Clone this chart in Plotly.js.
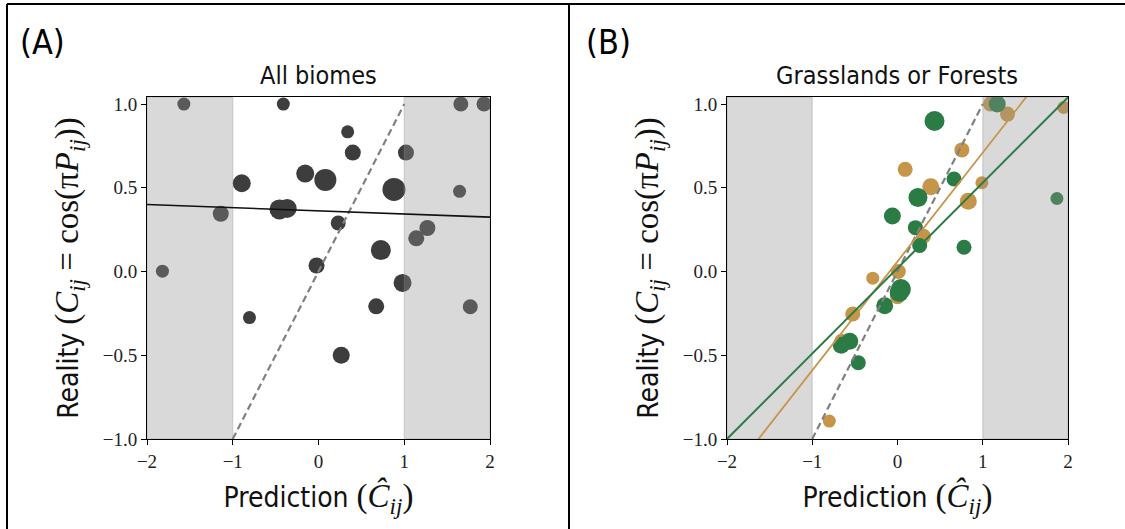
<!DOCTYPE html>
<html>
<head>
<meta charset="utf-8">
<script src="https://cdn.plot.ly/plotly-3.0.1.min.js"></script>
<style>html,body{margin:0;padding:0;background:#fff;}#chart{width:1125px;height:529px;}</style>
</head>
<body>
<div id="chart"></div>
<script>
// ---------- data ----------
// Panel A: all biomes
const predA   = [-1.57, -0.41, 1.66, 1.93, 0.34, 0.40, 1.02, -0.155, 0.08, -0.895, 0.88, 1.645, -0.455, -0.365, -1.14, 0.23, 1.27, 1.14, 0.727, -0.023, -1.82, 0.98, 0.673, 1.77, -0.805, 0.265];
const realA   = [1.0, 1.0, 1.0, 1.0, 0.834, 0.71, 0.71, 0.585, 0.547, 0.527, 0.49, 0.479, 0.371, 0.377, 0.345, 0.29, 0.26, 0.198, 0.128, 0.036, 0.002, -0.068, -0.208, -0.21, -0.275, -0.50];
const weightA = [13, 13, 15, 15, 13, 16, 16, 18, 22, 18, 23, 13, 20, 19, 16, 15, 16, 16, 20, 16, 13, 18, 16, 15, 13, 17];
const fitA_x  = [-2, 2];
const fitA_y  = [0.40, 0.325];

// Panel B: grasslands (tan) and forests (green)
const predGrass   = [1.09, 1.29, 1.95, 0.755, 0.09, 0.39, 0.99, 0.83, 0.305, 0.01, -0.29, 0.0, -0.525, -0.66, -0.80];
const realGrass   = [1.0, 0.94, 0.98, 0.726, 0.61, 0.506, 0.53, 0.42, 0.21, 0.0, -0.04, -0.15, -0.254, -0.41, -0.893];
const weightGrass = [15, 15, 13, 15, 15, 17, 13, 17, 15, 15, 13, 15, 15, 13, 13];
const predForest   = [1.17, 0.434, 0.663, 0.24, 1.87, -0.06, 0.21, 0.26, 0.78, 0.04, 0.02, -0.15, -0.56, -0.66, -0.46];
const realForest   = [1.0, 0.899, 0.552, 0.442, 0.436, 0.331, 0.262, 0.155, 0.145, -0.105, -0.125, -0.204, -0.417, -0.44, -0.545];
const weightForest = [17, 20, 15, 19, 13, 17, 15, 15, 15, 20, 19, 17, 17, 17, 15];
const fitGrass_x  = [-2, 2];
const fitGrass_y  = [-1.24, 1.36];
const fitForest_x = [-2, 2];
const fitForest_y = [-1.0, 1.04];

const identity_x = [-1, 1];
const identity_y = [-1, 1];

const xRange = [-2, 2];
const yRange = [-1, 1.042];
const threshold = 1;
const xTicks = [-2, -1, 0, 1, 2];
const yTicks = [-1, -0.5, 0, 0.5, 1];

// ---------- styles ----------
const SANS = '"DejaVu Sans Condensed", "Liberation Sans Narrow", Lato, sans-serif';
const SERIF = '"Liberation Serif", "DejaVu Serif", serif';
const greyPt = '#3d3d3d';
const tan = '#c6954a';
const green = '#2b7b45';
const shadeCol = 'rgba(146,146,146,0.35)';

function shadeTrace(xa, ya) {
  const x0 = xRange[0], x1 = xRange[1], y0 = yRange[0], y1 = yRange[1];
  return {
    x: [x0, -threshold, -threshold, x0, x0, null, threshold, x1, x1, threshold, threshold],
    y: [y0, y0, y1, y1, y0, null, y0, y0, y1, y1, y0],
    xaxis: xa, yaxis: ya, mode: 'lines', fill: 'toself',
    fillcolor: shadeCol, line: {color: 'rgba(140,140,140,0.25)', width: 1.5},
    hoverinfo: 'skip', showlegend: false
  };
}

function pts(x, y, xa, ya, color, size) {
  return {x: x, y: y, xaxis: xa, yaxis: ya, mode: 'markers', type: 'scatter',
          marker: {color: color, size: size, opacity: 1, line: {width: 0}}, showlegend: false};
}

const traces = [
  // Panel A
  pts(predA, realA, 'x', 'y', greyPt, weightA),
  shadeTrace('x', 'y'),
  {x: identity_x, y: identity_y, xaxis: 'x', yaxis: 'y', mode: 'lines',
   line: {color: '#808080', width: 2.2, dash: '7px,4px'}, showlegend: false},
  {x: fitA_x, y: fitA_y, xaxis: 'x', yaxis: 'y', mode: 'lines',
   line: {color: '#111', width: 1.6}, showlegend: false},
  // Panel B
  pts(predGrass, realGrass, 'x2', 'y2', tan, weightGrass),
  pts(predForest, realForest, 'x2', 'y2', green, weightForest),
  shadeTrace('x2', 'y2'),
  {x: identity_x, y: identity_y, xaxis: 'x2', yaxis: 'y2', mode: 'lines',
   line: {color: '#808080', width: 2.2, dash: '7px,4px'}, showlegend: false},
  {x: fitGrass_x, y: fitGrass_y, xaxis: 'x2', yaxis: 'y2', mode: 'lines',
   line: {color: tan, width: 1.8}, showlegend: false},
  {x: fitForest_x, y: fitForest_y, xaxis: 'x2', yaxis: 'y2', mode: 'lines',
   line: {color: green, width: 2}, showlegend: false}
];

const W = 1125, H = 529;
const yDom = [1 - 439 / H, 1 - 97 / H];

const M = 'font-family:Liberation Serif;font-size:33px';
const yTitle = 'Reality <span style="' + M + '">(<i>C</i><sub><i>ij</i></sub> = cos(π<i>P</i><sub><i>ij</i></sub>))</span>';
const xTitle = 'Prediction <span style="' + M + '">(<i>C\u0302</i><sub><i>ij</i></sub>)</span>';

function xAxis(dom) {
  return {
    domain: dom, range: xRange, tickvals: xTicks, ticktext: xTicks.map(v => v < 0 ? '\u2212' + Math.abs(v) : String(v)),
    ticks: 'outside', ticklen: 5, tickwidth: 1, tickcolor: '#000',
    showline: true, linecolor: '#000', linewidth: 1, mirror: true,
    showgrid: false, zeroline: false, fixedrange: true,
    tickfont: {family: SERIF, size: 19, color: '#222'},
    title: {text: xTitle, font: {family: SANS, size: 28, color: '#111'}, standoff: 16}
  };
}
function yAxis(anchor) {
  return {
    domain: yDom, range: yRange, anchor: anchor, tickvals: yTicks,
    ticktext: yTicks.map(v => (v < 0 ? '\u2212' : '') + Math.abs(v).toFixed(1)),
    ticks: 'outside', ticklen: 5, tickwidth: 1, tickcolor: '#000',
    showline: true, linecolor: '#000', linewidth: 1, mirror: true,
    showgrid: false, zeroline: false, fixedrange: true,
    tickfont: {family: SERIF, size: 19, color: '#222'},
    title: {text: yTitle, font: {family: SANS, size: 28, color: '#111'}, standoff: 15}
  };
}

const layout = {
  width: W, height: H,
  margin: {l: 0, r: 0, t: 0, b: 0},
  paper_bgcolor: '#fff', plot_bgcolor: '#fff',
  showlegend: false,
  xaxis: Object.assign(xAxis([147 / W, 490 / W]), {anchor: 'y'}),
  yaxis: yAxis('x'),
  xaxis2: Object.assign(xAxis([727 / W, 1068 / W]), {anchor: 'y2'}),
  yaxis2: yAxis('x2'),
  annotations: [
    {text: '(A)', xref: 'paper', yref: 'paper', x: 18 / W, y: 1 - 42 / H, xanchor: 'left', yanchor: 'middle',
     showarrow: false, font: {family: SANS, size: 34, color: '#000'}},
    {text: '(B)', xref: 'paper', yref: 'paper', x: 584 / W, y: 1 - 42 / H, xanchor: 'left', yanchor: 'middle',
     showarrow: false, font: {family: SANS, size: 34, color: '#000'}},
    {text: 'All biomes', xref: 'paper', yref: 'paper', x: 318 / W, y: 1 - 75 / H, xanchor: 'center', yanchor: 'middle',
     showarrow: false, font: {family: SANS, size: 25, color: '#111'}},
    {text: 'Grasslands or Forests', xref: 'paper', yref: 'paper', x: 897 / W, y: 1 - 75 / H, xanchor: 'center', yanchor: 'middle',
     showarrow: false, font: {family: SANS, size: 25, color: '#111'}}
  ],
  shapes: [
    {type: 'line', xref: 'paper', yref: 'paper', x0: 7 / W, x1: 1, y0: 1 - 4 / H, y1: 1 - 4 / H, line: {color: '#000', width: 2}},
    {type: 'line', xref: 'paper', yref: 'paper', x0: 7 / W, x1: 7 / W, y0: 0, y1: 1 - 4 / H, line: {color: '#000', width: 2}},
    {type: 'line', xref: 'paper', yref: 'paper', x0: 569 / W, x1: 569 / W, y0: 0, y1: 1 - 4 / H, line: {color: '#000', width: 2}}
  ]
};

Plotly.newPlot('chart', traces, layout, {displayModeBar: false, staticPlot: true});
</script>
</body>
</html>
